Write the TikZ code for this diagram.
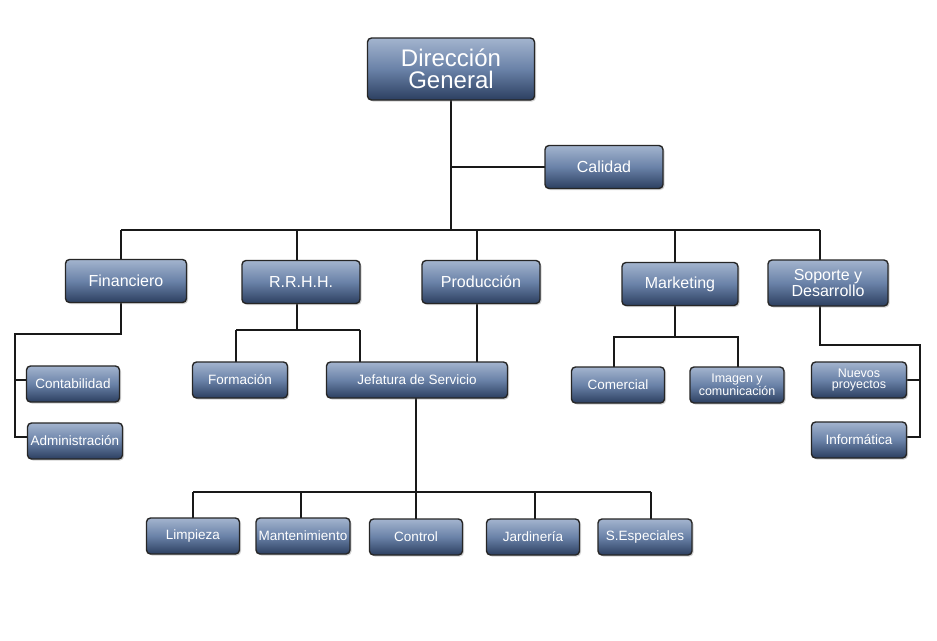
\documentclass[tikz,border=0pt]{standalone}
\usepackage{fontspec}
\setmainfont{Liberation Sans}
\usetikzlibrary{shadows}
\definecolor{ctop}{HTML}{A3B4CE}
\definecolor{cmid}{HTML}{6A82A8}
\definecolor{cbot}{HTML}{2C3F60}
\begin{document}
\begin{tikzpicture}[x=1pt,y=-1pt,
  box/.style={draw=black!85,line width=1.4pt,rounded corners=4pt,top color=ctop,bottom color=cbot,
    middle color=cmid,text=white,align=center,font=\fontsize{15}{15}\selectfont,
    inner sep=1pt,drop shadow={opacity=0.35,shadow xshift=1.5pt,shadow yshift=-1.5pt}},
  big/.style={box,minimum width=118pt,minimum height=43pt,font=\fontsize{16}{16}\selectfont},
  sm/.style={box,minimum width=93pt,minimum height=36pt,font=\fontsize{13.5}{13}\selectfont},
  ln/.style={line width=2pt,black!90}]
\useasboundingbox (0,0) rectangle (937,640);
\fill[white] (0,0) rectangle (937,640);
\coordinate (b1) at (121,230); \coordinate (b2) at (820,230);
\draw[ln] (451,100) -- (451,230);
\draw[ln] (451,167) -- (545,167);
\draw[ln] (b1) -- (b2);
\foreach \x in {121,297,477,675,820} \draw[ln] (\x,230) -- (\x,270);
\draw[ln] (121,300) -- (121,334) -- (15,334) -- (15,437) -- (40,437);
\draw[ln] (15,380) -- (40,380);
\draw[ln] (297,300) -- (297,330);
\draw[ln] (236,330) -- (360,330);
\draw[ln] (236,330) -- (236,370); \draw[ln] (360,330) -- (360,370);
\draw[ln] (477,300) -- (477,370);
\draw[ln] (416,390) -- (416,492);
\draw[ln] (193,492) -- (651,492);
\foreach \x in {193,301,416,535,651} \draw[ln] (\x,492) -- (\x,525);
\draw[ln] (675,300) -- (675,337) -- (614,337) -- (614,375);
\draw[ln] (675,337) -- (738,337) -- (738,375);
\draw[ln] (820,300) -- (820,345) -- (920,345) -- (920,437) -- (890,437);
\draw[ln] (920,380) -- (890,380);
\node[box,minimum width=167pt,minimum height=62pt,font=\fontsize{24}{22}\selectfont] (dg) at (451,69) {Dirección\\General};
\node[big] (cal) at (604,167) {Calidad};
\node[big,minimum width=121pt] (fin) at (126,281) {Financiero};
\node[big] (rrhh) at (301,282) {R.R.H.H.};
\node[big] (prod) at (481,282) {Producción};
\node[big,minimum width=116pt] (mkt) at (680,284) {Marketing};
\node[big,minimum width=120pt,minimum height=46pt] (sop) at (828,283) {Soporte y\\Desarrollo};
\node[sm] (cont) at (73,384) {Contabilidad};
\node[sm,minimum width=95pt] (adm) at (75,441) {Administración};
\node[sm,minimum width=95pt] (form) at (240,380) {Formación};
\node[sm,minimum width=181pt] (jef) at (417,380) {Jefatura de Servicio};
\node[sm] (com) at (618,385) {Comercial};
\node[sm,minimum width=94pt,font=\fontsize{12.5}{11}\selectfont] (img) at (737,385) {Imagen y\\comunicación};
\node[sm,minimum width=95pt,font=\fontsize{12.5}{11}\selectfont] (nue) at (859,380) {Nuevos\\proyectos};
\node[sm,minimum width=95pt] (inf) at (859,440) {Informática};
\node[sm] (lim) at (193,536) {Limpieza};
\node[sm,minimum width=94pt] (man) at (303,536) {Mantenimiento};
\node[sm] (ctl) at (416,537) {Control};
\node[sm] (jar) at (533,537) {Jardinería};
\node[sm,minimum width=94pt] (esp) at (645,537) {S.Especiales};
\end{tikzpicture}
\end{document}
